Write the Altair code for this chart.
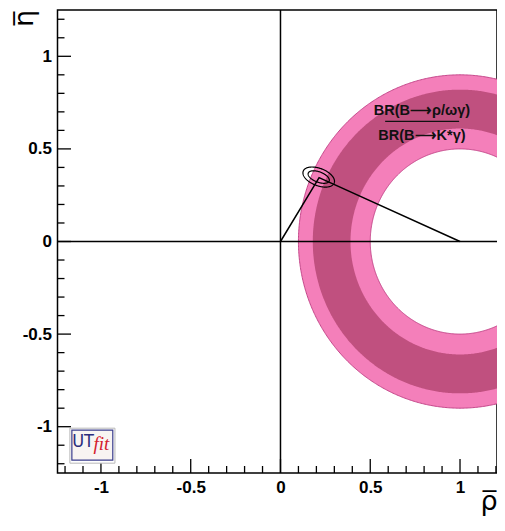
import altair as alt
import numpy as np
import pandas as pd

# ---------------- data ----------------
x_major = [-1, -0.5, 0, 0.5, 1]
y_major = [-1, -0.5, 0, 0.5, 1]
x_minor = [-1.2, -1.1, -0.9, -0.8, -0.7, -0.6, -0.4, -0.3, -0.2, -0.1,
           0.1, 0.2, 0.3, 0.4, 0.6, 0.7, 0.8, 0.9, 1.1, 1.2]
y_minor = [-1.2, -1.1, -0.9, -0.8, -0.7, -0.6, -0.4, -0.3, -0.2, -0.1,
           0.1, 0.2, 0.3, 0.4, 0.6, 0.7, 0.8, 0.9, 1.1, 1.2]

# BR(B->rho/omega gamma)/BR(B->K* gamma) constraint: ring centred at (1,0)
ring_center_rho = 1.0
ring_center_eta = 0.0
ring_radii = [0.90, 0.82, 0.61, 0.50]          # 95% outer, 68% outer, 68% inner, 95% inner
ring_fill = ["#F47FBA", "#C0507F", "#F47FBA", "#FFFFFF"]

# unitarity triangle
tri_rho = [0.0, 0.215, 1.0]
tri_eta = [0.0, 0.345, 0.0]

# fit contours (ellipses)
ell_center_rho = 0.213
ell_center_eta = 0.348
ell_a = [0.092, 0.062]
ell_b = [0.047, 0.028]
ell_angle_deg = -20.0

# the page is 489px wide inside its margins: keep the reference's scale and cut the right edge
X_DOM = [-1.242, 1.206]
Y_DOM = [-1.25, 1.25]
W, H = 439.5, 463

xs = alt.Scale(domain=X_DOM, nice=False, zero=False)
ys = alt.Scale(domain=Y_DOM, nice=False, zero=False)

# ---------------- ring layers ----------------
t = np.linspace(0, np.pi, 361)
ring_layers = []
for i, (r, c) in enumerate(zip(ring_radii, ring_fill)):
    d = pd.DataFrame({
        "rho": ring_center_rho + r * np.cos(t),
        "lo": ring_center_eta - r * np.sin(t),
        "hi": ring_center_eta + r * np.sin(t),
    })
    kw = dict(color=c, clip=True, opacity=1)
    if i == 0 or i == 3:
        kw.update(stroke="#C4478A", strokeWidth=1)
    ring_layers.append(
        alt.Chart(d).mark_area(**kw).encode(
            x=alt.X("rho:Q", scale=xs),
            y=alt.Y("lo:Q", scale=ys),
            y2="hi:Q",
        )
    )

# ---------------- ellipses ----------------
tt = np.linspace(0, 2 * np.pi, 181)
phi = np.deg2rad(ell_angle_deg)
rows = []
for k, (a, b) in enumerate(zip(ell_a, ell_b)):
    for j, tv in enumerate(tt):
        rows.append({
            "k": k, "i": j,
            "rho": ell_center_rho + a * np.cos(tv) * np.cos(phi) - b * np.sin(tv) * np.sin(phi),
            "eta": ell_center_eta + a * np.cos(tv) * np.sin(phi) + b * np.sin(tv) * np.cos(phi),
        })
ell = alt.Chart(pd.DataFrame(rows)).mark_line(color="black", strokeWidth=1.2).encode(
    x=alt.X("rho:Q", scale=xs), y=alt.Y("eta:Q", scale=ys), detail="k:N", order="i:Q")

# ---------------- zero lines & triangle ----------------
zx = alt.Chart(pd.DataFrame({"v": [0.0]})).mark_rule(color="black", strokeWidth=1.5).encode(
    x=alt.X("v:Q", scale=xs))
zy = alt.Chart(pd.DataFrame({"v": [0.0]})).mark_rule(color="black", strokeWidth=1.5).encode(
    y=alt.Y("v:Q", scale=ys))

tri = alt.Chart(pd.DataFrame({"rho": tri_rho, "eta": tri_eta, "o": [0, 1, 2]})).mark_line(
    color="black", strokeWidth=1.5).encode(
    x=alt.X("rho:Q", scale=xs), y=alt.Y("eta:Q", scale=ys), order="o:Q")

# ---------------- ticks (inside, ROOT style) ----------------
def xticks(vals, length):
    return alt.Chart(pd.DataFrame({"v": vals})).mark_rule(color="black", strokeWidth=1.3).encode(
        x=alt.X("v:Q", scale=xs), y=alt.value(H), y2=alt.value(H - length))

def yticks(vals, length):
    return alt.Chart(pd.DataFrame({"v": vals})).mark_rule(color="black", strokeWidth=1.3).encode(
        y=alt.Y("v:Q", scale=ys), x=alt.value(0), x2=alt.value(length))

# ---------------- annotation ----------------
ann = pd.DataFrame({
    "rho": [0.788, 0.788],
    "eta": [0.684, 0.549],
    "txt": ["BR(B\u27f6\u03c1/\u03c9\u03b3)", "BR(B\u27f6K*\u03b3)"],
})
ann_text = alt.Chart(ann).mark_text(font="Liberation Sans", fontWeight="bold", fontSize=14.5,
                                    baseline="alphabetic", align="center", color="#111111").encode(
    x=alt.X("rho:Q", scale=xs), y=alt.Y("eta:Q", scale=ys), text="txt:N")
frac = alt.Chart(pd.DataFrame({"a": [0.583], "b": [0.995], "e": [0.649]})).mark_rule(
    color="#111111", strokeWidth=1.3).encode(
    x=alt.X("a:Q", scale=xs), x2="b:Q", y=alt.Y("e:Q", scale=ys))

# ---------------- UTfit logo ----------------
logo_outer = alt.Chart(pd.DataFrame({"x1": [-1.173], "x2": [-0.922], "y1": [-1.008], "y2": [-1.197]})).mark_rect(
    fill="white", stroke="#B8B8B8", strokeWidth=1).encode(
    x=alt.X("x1:Q", scale=xs), x2="x2:Q", y=alt.Y("y1:Q", scale=ys), y2="y2:Q")
logo_inner = alt.Chart(pd.DataFrame({"x1": [-1.162], "x2": [-0.934], "y1": [-1.019], "y2": [-1.181]})).mark_rect(
    fill="#F8F4F2", stroke="#3A3C8C", strokeWidth=1.2).encode(
    x=alt.X("x1:Q", scale=xs), x2="x2:Q", y=alt.Y("y1:Q", scale=ys), y2="y2:Q")
logo_ut = alt.Chart(pd.DataFrame({"x": [-1.160], "y": [-1.110], "t": ["UT"]})).mark_text(
    font="DejaVu Sans Condensed, Liberation Sans", fontSize=18, align="left", baseline="alphabetic",
    color="#2B2D7C").encode(
    x=alt.X("x:Q", scale=xs), y=alt.Y("y:Q", scale=ys), text="t:N")
logo_fit = alt.Chart(pd.DataFrame({"x": [-1.042], "y": [-1.127], "t": ["fit"]})).mark_text(
    font="Liberation Serif", fontStyle="italic", fontSize=19, align="left", baseline="alphabetic",
    color="#D4202C").encode(
    x=alt.X("x:Q", scale=xs), y=alt.Y("y:Q", scale=ys), text="t:N")

# ---------------- base with axes ----------------
base = alt.Chart(pd.DataFrame({"rho": [0.0], "eta": [0.0]})).mark_point(opacity=0).encode(
    x=alt.X("rho:Q", scale=xs, title="\u03c1\u0305",
            axis=alt.Axis(values=x_major, labelExpr="datum.value + ''", titleX=431, titleY=36,
                          titleAlign="center", titleBaseline="alphabetic", titleAngle=0)),
    y=alt.Y("eta:Q", scale=ys, title="\u03b7\u0305",
            axis=alt.Axis(values=y_major, labelExpr="datum.value + ''", titleX=-33, titleY=8,
                          titleAlign="center", titleBaseline="middle", titleAngle=270)),
)

chart = alt.layer(
    base, *ring_layers, zx, zy, tri, ell, frac, ann_text,
    xticks(x_major, 14), xticks(x_minor, 7), yticks(y_major, 13.5), yticks(y_minor, 7),
    logo_outer, logo_inner, logo_ut, logo_fit,
).properties(
    width=W, height=H, autosize="none",
    padding={"left": 49.5, "top": 2, "right": 0, "bottom": 44},
).configure_view(
    stroke="black", strokeWidth=1.5
).configure_axis(
    domain=False, ticks=False, grid=False,
    labelFont="Liberation Sans", labelFontWeight="bold", labelFontSize=17, labelColor="black",
    labelPadding=6,
    titleFont="DejaVu Sans", titleFontWeight="normal", titleFontSize=27, titleColor="black",
)

chart.save("out.html", embed_options={"renderer": "svg", "actions": False})
